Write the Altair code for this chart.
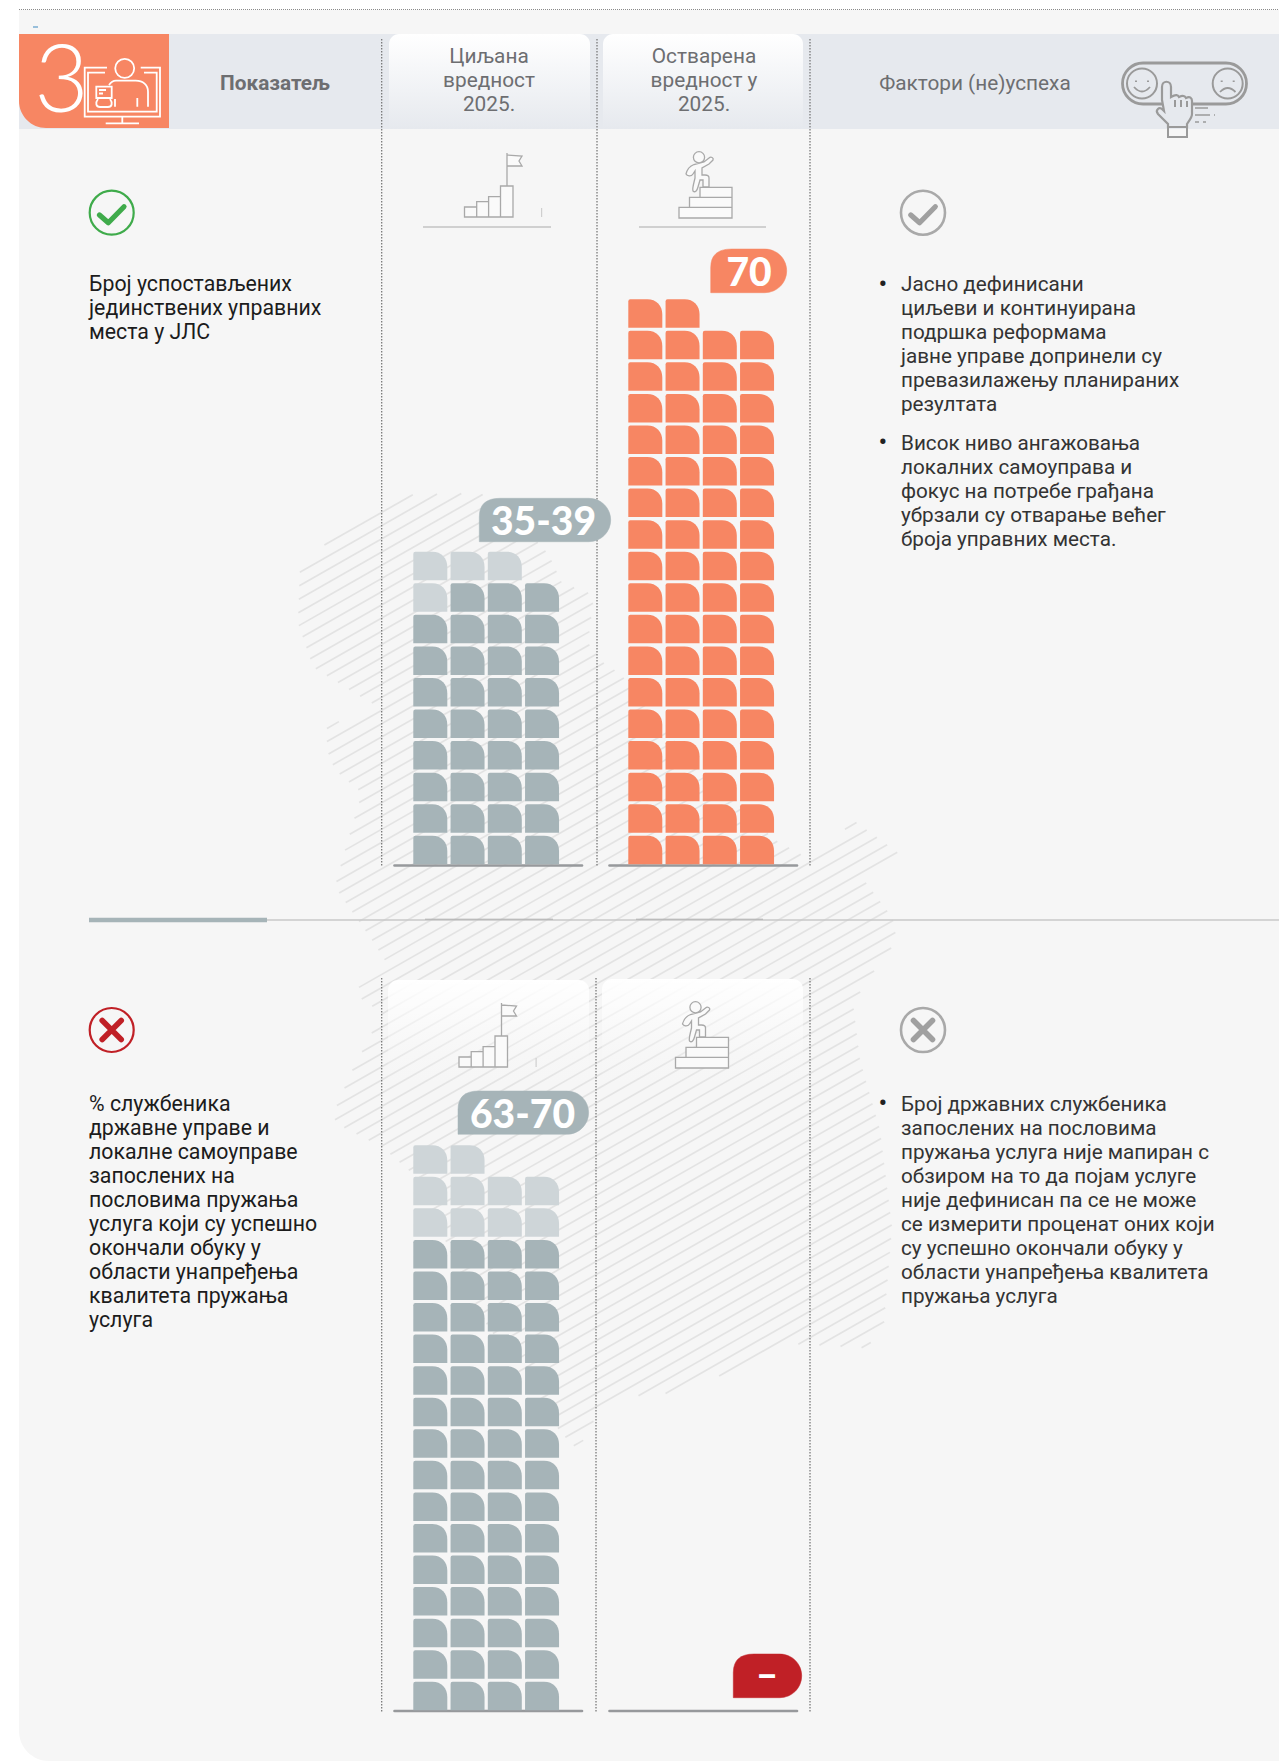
import altair as alt
import pandas as pd

# ---------- data ----------
top_target_rows = ["DDDD"] * 8 + ["LDDD", "LLL"]          # 35-39
top_actual_rows = ["OOOO"] * 17 + ["OO"]                  # 70
bottom_target_rows = ["DDDD"] * 15 + ["LLLL", "LLLL", "LL"]  # 63-70
kind_domain = ["D", "L", "O"]
kind_range = ["#a6b4b8", "#ced5d8", "#f78663"]

labels = ["35-39", "70", "63-70", "–"]
headers = ["Показатељ", "Циљана\nвредност\n2025.", "Остварена\nвредност у\n2025.", "Фактори (не)успеха"]
ind_top = "Број успостављених\nјединствених управних\nместа у ЈЛС"
ind_bottom = ("% службеника\nдржавне управе и\nлокалне самоуправе\nзапослених на\nпословима пружања\n"
              "услуга који су успешно\nокончали обуку у\nобласти унапређења\nквалитета пружања\nуслуга")
fac_top_1 = ("Јасно дефинисани\nциљеви и континуирана\nподршка реформама\nјавне управе допринели су\n"
             "превазилажењу планираних\nрезултата")
fac_top_2 = ("Висок ниво ангажовања\nлокалних самоуправа и\nфокус на потребе грађана\nубрзали су отварање већег\n"
             "броја управних места.")
fac_bottom = ("Број државних службеника\nзапослених на пословима\nпружања услуга није мапиран с\n"
              "обзиром на то да појам услуге\nније дефинисан па се не може\nсе измерити проценат оних који\n"
              "су успешно окончали обуку у\nобласти унапређења квалитета\nпружања услуга")

hatch_outline = [(402,495),(480,493),(510,510),(549,555),(562,583),(594,595),(588,643),(607,667),(619,672),
 (690,760),(775,840),(802,855),(825,852),(853,820),(904,857),(864,880),(892,917),(896,930),(888,960),(880,962),
 (853,1003),(860,1060),(880,1130),(892,1227),(884,1323),(867,1348),(778,1343),(745,1367),(671,1393),(622,1397),
 (598,1413),(578,1450),(561,1433),(470,1300),(420,1180),(382,1147),(335,1123),(335,1110),(351,1073),(382,1013),
 (353,993),(386,962),(374,943),(353,913),(335,887),(343,857),(351,830),(362,793),(335,770),(327,750),(327,723),
 (353,720),(380,707),(366,700),(313,667),(298,623),(300,568),(333,537)]

W, H = 1271, 1753
GREY = "#a9a9a9"
TXT = "#6d6e71"
ORANGE = "#f78663"
RED = "#c02026"
TEAL = "#a6b4b8"


def X(f="x"):
    return alt.X(f"{f}:Q", scale=None, axis=None)


def Y(f="y"):
    return alt.Y(f"{f}:Q", scale=None, axis=None)


def rects(rows, **mark):
    df = pd.DataFrame(rows, columns=["x", "x2", "y", "y2"])
    df[["x", "x2"]] -= 8
    df[["y", "y2"]] -= 8
    return alt.Chart(df).mark_rect(**mark).encode(x=X(), x2=alt.X2("x2:Q"), y=Y(), y2=alt.Y2("y2:Q"))


def rules(rows, **mark):
    df = pd.DataFrame(rows, columns=["x", "x2", "y", "y2"])
    df[["x", "x2"]] -= 8
    df[["y", "y2"]] -= 8
    return alt.Chart(df).mark_rule(**mark).encode(x=X(), x2=alt.X2("x2:Q"), y=Y(), y2=alt.Y2("y2:Q"))


def shape(path, ox=0, oy=0, fill="transparent", stroke=GREY, sw=1.5, **kw):
    df = pd.DataFrame({"x": [ox - 8], "y": [oy - 8]})
    return alt.Chart(df).mark_point(shape=path, size=4, filled=True, fill=fill, stroke=stroke,
                                    strokeWidth=sw, opacity=1, **kw).encode(x=X(), y=Y())


def text(t, x, y, size=21.3, color="#1c1c1c", weight=400, font="Roboto", align="left", lh=24, baseline="alphabetic"):
    df = pd.DataFrame({"x": [x - 8], "y": [y - 8], "t": [t]})
    return alt.Chart(df).mark_text(font=font, fontSize=size, fontWeight=weight, color=color, align=align,
                                   baseline=baseline, lineBreak="\n", lineHeight=lh).encode(
        x=X(), y=Y(), text="t:N")


def circle(cx, cy, r):
    return f"M{cx-r},{cy}a{r},{r} 0 1,0 {2*r},0a{r},{r} 0 1,0 {-2*r},0Z"


def waffle(rows, x_range, y_range):
    recs = [{"col": c, "row": r, "kind": k} for r, line in enumerate(rows) for c, k in enumerate(line)]
    cell = "M-17,14.25V-12Q-17,-14.25 -15,-14.25H2C11,-14.25 17,-8 17,1V14.25Z"
    return alt.Chart(pd.DataFrame(recs)).mark_point(shape=cell, size=4, filled=True, opacity=1, strokeWidth=0).encode(
        x=alt.X("col:Q", axis=None, scale=alt.Scale(domain=[0, 3], range=x_range)),
        y=alt.Y("row:Q", axis=None, scale=alt.Scale(domain=[0, 17], range=y_range)),
        color=alt.Color("kind:N", legend=None, scale=alt.Scale(domain=kind_domain, range=kind_range)),
    )


def hatch_segments(poly, slope=0.57, gap=13.2):
    out = []
    n = len(poly)
    c = 400.0
    while c < 2100:
        hits = []
        for i in range(n):
            (x1, y1), (x2, y2) = poly[i], poly[(i + 1) % n]
            d1 = y1 - (c - slope * x1)
            d2 = y2 - (c - slope * x2)
            if (d1 < 0) != (d2 < 0):
                t = d1 / (d1 - d2)
                hits.append(x1 + t * (x2 - x1))
        hits.sort()
        for a, b in zip(hits[::2], hits[1::2]):
            out.append((a, b, c - slope * a, c - slope * b))
        c += gap
    return out


def pill(x0, x1, y0, y1, color):
    h = y1 - y0
    r = h / 2
    path = (f"M{x0},{y1}V{y0+r*0.85}Q{x0},{y0} {x0+r*0.95},{y0}H{x1-r}A{r},{r} 0 0,1 {x1-r},{y1}Z")
    return shape(path, fill=color, stroke=color, sw=0.5)


def grad(stops):
    return alt.Gradient(gradient="linear", x1=0, x2=0, y1=0, y2=1,
                        stops=[alt.GradientStop(color=c, offset=o) for c, o in stops])


flag_icon = ("M464.5,217V207H476.7V217ZM476.7,217V201.7H488.6V217ZM488.6,217V196.7H500.5V217ZM500.5,217V186H513V217Z"
             "M507,186V153M507,155L522,156L519,161L522,166L507,166")
flag_tick = "M541.6,208V217"
climber_icon = ("M679,218V207.3H732V218ZM689.5,207.3V197.3H732V207.3ZM700,197.3V187.3H732V197.3Z"
                + circle(699, 157.3, 5.6) +
                "M694,164.5C690,166 687,170 686,174C687,176 691,177 693,174L695,171V178C694,183 692,188 693,191C695,193 697,191 698,187"
                "L700,180H703V187H709V178C709,176 707,175 705,175H702V168L709,164L713,160C714,158 711,156 709,158L704,162Z")

layers = []
# backgrounds
layers.append(rects([(19, 1287, 10, 1761)], color="#f6f6f6", cornerRadiusBottomLeft=30))
layers.append(rules([(19, 1287, 9.5, 9.5)], color="#8a8a8a", strokeWidth=1, strokeDash=[1, 1]))
layers.append(rules([(33, 38, 27, 27)], color="#3a88c0", strokeWidth=1))
layers.append(rects([(19, 1281, 34, 129)], color="#e6e9ee"))
# hatch
hs = hatch_segments(hatch_outline)
layers.append(rules(hs, color="#e3e3e3", strokeWidth=1.7))
# header and lower columns boxes
layers.append(rects([(389, 590, 34, 129), (603, 803, 34, 129)],
                    color=grad([("#ffffff", 0), ("#e6e9ee", 1)]),
                    cornerRadiusTopLeft=10, cornerRadiusTopRight=10))
layers.append(rects([(388, 589, 980, 1090), (602, 803, 979, 1090)],
                    color=grad([("rgba(255,255,255,1)", 0), ("rgba(255,255,255,0.55)", 0.3), ("rgba(246,246,246,0)", 1)]),
                    cornerRadiusTopLeft=10, cornerRadiusTopRight=10))
# orange tab
layers.append(rects([(19, 169, 34, 128)], color=ORANGE, cornerRadiusBottomLeft=27))
# dotted columns
layers.append(rules([(381.7, 381.7, 39, 866), (597, 597, 39, 866), (810, 810, 39, 866),
                     (381.7, 381.7, 978, 1712), (596, 596, 978, 1712), (810, 810, 978, 1712)],
                    color="#707070", strokeWidth=1.2, strokeDash=[1.5, 1.5]))
# dividers
layers.append(rules([(267, 1281, 920, 920)], color="#c9c9c9", strokeWidth=1.5))
layers.append(rules([(425, 553, 919.2, 919.2), (636, 763, 919.2, 919.2)], color="#b0b0b0", strokeWidth=1))
layers.append(rules([(89, 267, 920, 920)], color=TEAL, strokeWidth=4.5))
# baselines
layers.append(rules([(394.5, 582, 865.5, 865.5), (609.5, 797, 865.5, 865.5),
                     (394.5, 582, 1711, 1711), (609.5, 797, 1711, 1711)],
                    color="#97999c", strokeWidth=2.6, strokeCap="round"))
# waffles
PITCH_X = 37.25 * 3
layers.append(waffle(top_target_rows, [430.3 - 8, 430.3 - 8 + PITCH_X], [850 - 8, 313.5 - 8]))
layers.append(waffle(top_actual_rows, [645.3 - 8, 645.3 - 8 + PITCH_X], [850 - 8, 313.5 - 8]))
layers.append(waffle(bottom_target_rows, [430.3 - 8, 430.3 - 8 + PITCH_X], [1696 - 8, 1159.5 - 8]))
# value pills
layers.append(pill(479.3, 610.7, 498.3, 541.7, TEAL))
layers.append(pill(710.7, 786.7, 249, 292.7, ORANGE))
layers.append(pill(458, 588.6, 1091, 1134.3, TEAL))
layers.append(pill(733.3, 801.7, 1654, 1697.7, RED))
for (t, x, y) in zip(labels, [543.5, 749, 522.5, 767], [534.5, 286, 1127.5, 1688]):
    layers.append(text(t, x, y, size=39, color="white", weight=900, font="Lato", align="center", lh=36))
# header texts
layers.append(text(headers[0], 275, 90, size=20.8, weight=700, color=TXT, align="center"))
layers.append(text(headers[1], 489, 63, size=20.8, weight=400, color=TXT, align="center", lh=23.8))
layers.append(text(headers[2], 704, 63, size=20.8, weight=400, color=TXT, align="center", lh=23.8))
layers.append(text(headers[3], 975, 90, size=20.8, weight=400, color=TXT, align="center"))
# header number and monitor icon
layers.append(text("3", 61.5, 112, size=94, color="white", weight=300, font="Lato", align="center", lh=100))
monitor = ("M107,67.7H84.7V116.7H160V67.7H140.7M105,72.7H88V111.7H156.7V72.7H144"
           "M122.3,116.7V123.3M105.7,123.3H139"
           + circle(124.7, 68.3, 9.5) +
           "M109,85C111,82 113,80.7 116,80.7H135.7C143,80.7 148,85 148,91.7V106.7M137.3,98V106.7M115,99V106.7"
           "M96.3,86.7H111.7V98H96.3ZM99,90H106M99,93.5H103"
           "M98,99C95,103 96,107 100,107H108C112,107 113,103 110,99")
layers.append(shape(monitor, fill="transparent", stroke="white", sw=1.8))
# flag and climber icons
for ox, oy in [(0, 0), (-5.5, 850)]:
    layers.append(shape(flag_icon, ox, oy, fill="#fafafa", stroke=GREY, sw=1.3))
    layers.append(shape(flag_tick, ox, oy, stroke="#cfcfcf", sw=1.2))
for ox, oy in [(0, 0), (-3.5, 850)]:
    layers.append(shape(climber_icon, ox, oy, fill="#fafafa", stroke=GREY, sw=1.3))
layers.append(rules([(423, 551, 227, 227), (639, 766, 227, 227)], color="#a9a9a9", strokeWidth=1.2))
# status icons
chk = "M99.5,215L108.3,222.7L124,206.7"
xx = "M-9.5,-9.5L9.5,9.5M9.5,-9.5L-9.5,9.5"
layers.append(shape(circle(111.7, 212.7, 22), stroke="#3fab4b", sw=2.2))
layers.append(shape(chk, stroke="#3fab4b", sw=5.2, strokeCap="round", strokeJoin="round"))
layers.append(shape(circle(923, 212.7, 22), stroke=GREY, sw=2.6))
layers.append(shape(chk, 811.3, 0, stroke="#a0a0a0", sw=5.2, strokeCap="round", strokeJoin="round"))
layers.append(shape(circle(111.7, 1030, 22), stroke=RED, sw=2.2))
layers.append(shape(xx, 111.7, 1030, stroke=RED, sw=5.6, strokeCap="round"))
layers.append(shape(circle(923, 1030, 22), stroke=GREY, sw=2.6))
layers.append(shape(xx, 923, 1030, stroke="#a0a0a0", sw=5.6, strokeCap="round"))
# switch icon
sw_col = "#9a9a9a"
pill_path = "M1143,63H1226A20.5,20.5 0 0,1 1226,104H1143A20.5,20.5 0 0,1 1143,63Z"
layers.append(shape(pill_path, stroke=sw_col, sw=2.8))
layers.append(shape(circle(1142, 83.5, 15), stroke=sw_col, sw=2))
layers.append(shape(circle(1227.7, 83.5, 15), stroke=sw_col, sw=2))
layers.append(shape("M1136,80.5v1.5M1148,80.5v1.5M1221.7,80.5v1.5M1233.7,80.5v1.5", stroke=sw_col, sw=2))
layers.append(shape("M1134,87Q1142,96 1150,87M1220,92Q1227.7,84 1235.5,92", stroke=sw_col, sw=1.8))
hand = ("M1162,100V87C1162,80 1171,80 1171,87V97C1176,94 1178,95 1179,97C1183,95 1185,96 1186,98C1190,96 1192,98 1192,101"
        "V114C1192,118 1188,122 1187,124V127H1168V124L1158,114C1155,110 1159,106 1163,110L1164,111Z")
layers.append(shape(hand, fill="#e6e9ee", stroke=sw_col, sw=2.2))
layers.append(shape("M1168,127H1187V137H1168ZM1175,100V107M1181,100V107M1187,101V107", stroke=sw_col, sw=2))
layers.append(shape("M1195,108H1208M1195,115H1210M1214,115H1215M1195,122H1199M1203,122H1206", stroke=sw_col, sw=1.6))
# indicators
layers.append(text(ind_top, 89, 291.2))
layers.append(text(ind_bottom, 89, 1110.7))
# factors
layers.append(text("•", 878.5, 293, color="#222222", size=26))
layers.append(text(fac_top_1, 901, 290.7, color="#333333", size=20.7))
layers.append(text("•", 878.5, 451, color="#222222", size=26))
layers.append(text(fac_top_2, 901, 449.5, color="#333333", size=20.7))
layers.append(text("•", 878.5, 1112, color="#222222", size=26))
layers.append(text(fac_bottom, 901, 1110.7, color="#333333", size=20.7))

chart = alt.layer(*layers).resolve_scale(x="independent", y="independent", color="shared").properties(
    width=W, height=H, padding=0, background="white",
    autosize=alt.AutoSizeParams(type="none", contains="padding"),
).configure_view(stroke=None)

chart.save("out.html", embed_options={"renderer": "svg", "actions": False})
